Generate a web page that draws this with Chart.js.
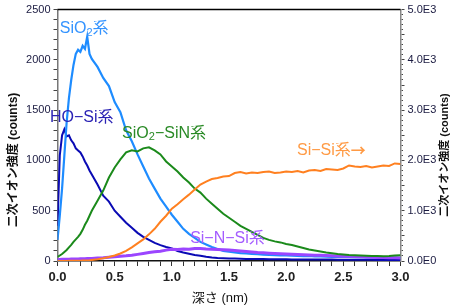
<!DOCTYPE html>
<html lang="ja">
<head>
    <meta charset="UTF-8">
    <title>SIMS depth profile</title>
    <script src="https://cdn.jsdelivr.net/npm/chart.js"></script>
    <style>
        html, body { margin: 0; padding: 0; background: #fff; }
        #wrap { width: 470px; height: 308px; position: relative; }
    </style>
</head>
<body>
    <div id="wrap"><canvas id="profileChart" width="470" height="308"></canvas></div>

    <script>
        // depth (nm)
        const depth = [0, 0.02, 0.04, 0.06, 0.08, 0.1, 0.12, 0.14, 0.16, 0.18, 0.2, 0.22, 0.24, 0.26, 0.28, 0.3,
            0.35, 0.4, 0.45, 0.5, 0.55, 0.6, 0.65, 0.7, 0.75, 0.8, 0.85, 0.9, 0.95, 1.0,
            1.05, 1.1, 1.15, 1.2, 1.25, 1.3, 1.35, 1.4, 1.45, 1.5,
            1.55, 1.6, 1.65, 1.7, 1.75, 1.8, 1.85, 1.9, 1.95, 2.0,
            2.05, 2.1, 2.15, 2.2, 2.25, 2.3, 2.35, 2.4, 2.45, 2.5,
            2.55, 2.6, 2.65, 2.7, 2.75, 2.8, 2.85, 2.9, 2.95, 3.0];

        // left axis (counts)
        const sio2 = [210, 450, 720, 1050, 1380, 1620, 1800, 1950, 2060, 2100, 2080, 2140, 2110, 2230, 2060, 2010,
            1930, 1820, 1740, 1580, 1480, 1300, 1190, 1060, 940, 820, 720, 620, 540, 460,
            390, 320, 270, 230, 190, 165, 140, 120, 100, 92,
            85, 78, 75, 70, 68, 62, 60, 58, 55, 55,
            52, 50, 48, 50, 46, 45, 44, 42, 40, 42,
            40, 38, 40, 37, 36, 35, 36, 34, 33, 32];
        const hoSi = [350, 1050, 1250, 1310, 1240, 1250, 1200, 1170, 1120, 1100, 1080, 1040, 990, 950, 900, 860,
            760, 650, 590, 500, 440, 380, 330, 280, 240, 210, 180, 158, 140, 125,
            100, 85, 72, 60, 52, 42, 35, 30, 28, 25,
            24, 22, 21, 20, 20, 19, 18, 18, 17, 17,
            16, 16, 15, 15, 15, 14, 14, 14, 13, 13,
            13, 12, 12, 12, 12, 11, 11, 11, 10, 10];
        const sio2SiN = [40, 55, 70, 90, 110, 135, 160, 190, 215, 240, 270, 310, 360, 400, 450, 500,
            600, 700, 830, 930, 1010, 1080, 1100, 1090, 1120, 1130, 1100, 1060, 990, 940,
            890, 830, 780, 720, 680, 620, 570, 520, 470, 430,
            390, 350, 320, 290, 260, 230, 210, 195, 185, 170,
            160, 145, 130, 115, 105, 95, 85, 78, 70, 65,
            60, 58, 55, 52, 50, 50, 48, 50, 55, 58];
        const siNSi = [15, 16, 17, 17, 18, 18, 19, 20, 20, 21, 22, 22, 23, 24, 25, 26,
            30, 33, 38, 42, 48, 52, 58, 66, 75, 85, 92, 98, 108, 116,
            115, 120, 118, 125, 124, 120, 118, 115, 112, 110,
            105, 100, 95, 90, 85, 82, 78, 75, 72, 70,
            68, 65, 62, 60, 58, 56, 55, 52, 50, 48,
            46, 44, 42, 40, 38, 36, 35, 33, 32, 30];
        // right axis (counts)
        const siSi = [0, 0, 0, 0, 2, 3, 3, 4, 5, 5, 6, 8, 10, 12, 15, 20,
            35, 55, 80, 110, 150, 200, 270, 350, 430, 530, 640, 780, 900, 1040,
            1130, 1230, 1320, 1420, 1520, 1580, 1630, 1650, 1680, 1690,
            1750, 1770, 1740, 1760, 1750, 1770, 1780, 1750, 1760, 1780,
            1770, 1790, 1760, 1800, 1810, 1790, 1830, 1820, 1810, 1840,
            1900, 1880, 1870, 1890, 1860, 1880, 1900, 1890, 1940, 1930];

        const xTickLabels = ['0.0', '0.5', '1.0', '1.5', '2.0', '2.5', '3.0'];
        const yTickLabels = ['0', '500', '1000', '1500', '2000', '2500'];
        const y2TickLabels = ['0.0E0', '1.0E3', '2.0E3', '3.0E3', '4.0E3', '5.0E3'];

        const FONT = '"Liberation Sans", "Noto Sans CJK JP", sans-serif';

        // [text parts, depth, counts, color]  parts: [string, kind] kind 0 normal, 1 subscript, 2 CJK arrow
        const labels = [
            [[['SiO', 0], ['2', 1], ['系', 0]], 0.02, 2311, '#3393ff'],
            [[['HO−Si系', 0]], -0.066, 1428, '#2a22b4'],
            [[['SiO', 0], ['2', 1], ['−SiN系', 0]], 0.565, 1270, '#2a8a26'],
            [[['Si−Si系', 0], ['→', 2]], 2.095, 1101, '#ff9a44'],
            [[['Si−N−Si系', 0]], 1.16, 218, '#a45cff']
        ];

        function pts(values) {
            return values.map((v, i) => ({ x: depth[i], y: v }));
        }

        function tickLabel(list, value, step) {
            const idx = value / step;
            if (Math.abs(idx - Math.round(idx)) > 1e-6) return '';
            return list[Math.round(idx)] ?? '';
        }

        const decor = {
            id: 'decor',
            afterDraw(chart) {
                const ctx = chart.ctx;
                const a = chart.chartArea;
                const xs = chart.scales.x, ys = chart.scales.y;
                ctx.save();
                // top frame line
                ctx.strokeStyle = '#000';
                ctx.lineWidth = 1.5;
                ctx.beginPath();
                ctx.moveTo(a.left, a.top);
                ctx.lineTo(a.right, a.top);
                ctx.stroke();

                // axis titles
                ctx.fillStyle = '#111';
                ctx.textAlign = 'center';
                ctx.textBaseline = 'middle';
                ctx.font = '13px ' + FONT;
                ctx.fillText('深さ (nm)', 220, 298);

                ctx.font = 'bold 12px ' + FONT;
                ctx.save();
                ctx.translate(14, 160);
                ctx.rotate(-Math.PI / 2);
                ctx.fillText('二次イオン強度 (counts)', 0, 0);
                ctx.restore();

                ctx.font = 'bold 11px ' + FONT;
                ctx.save();
                ctx.translate(445, 155);
                ctx.rotate(-Math.PI / 2);
                ctx.fillText('二次イオン強度 (counts)', 0, 0);
                ctx.restore();

                // series labels
                ctx.textAlign = 'left';
                labels.forEach(([parts, dx, dy, color]) => {
                    let px = xs.getPixelForValue(dx);
                    const py = ys.getPixelForValue(dy);
                    ctx.fillStyle = color;
                    parts.forEach(([txt, kind]) => {
                        if (kind === 1) ctx.font = '11px ' + FONT;
                        else if (kind === 2) ctx.font = 'bold 15px "Noto Sans CJK JP"';
                        else ctx.font = '16px ' + FONT;
                        ctx.fillText(txt, px, py + (kind === 1 ? 4 : 0));
                        px += ctx.measureText(txt).width;
                    });
                });
                ctx.restore();
            }
        };

        const line = (label, values, color, width, axis) => ({
            label, data: pts(values), borderColor: color, borderWidth: width,
            pointRadius: 0, fill: false, tension: 0, yAxisID: axis
        });

        new Chart(document.getElementById('profileChart'), {
            type: 'line',
            data: {
                datasets: [
                    line('Si-Si', siSi, '#ff8020', 2, 'y2'),
                    line('SiO2-SiN', sio2SiN, '#1b8a1b', 2, 'y'),
                    line('Si-N-Si', siNSi, '#9b45ff', 3, 'y'),
                    line('SiO2', sio2, '#1e8cff', 2.2, 'y'),
                    line('HO-Si', hoSi, '#0a0ab4', 2, 'y')
                ]
            },
            options: {
                responsive: false,
                animation: false,
                layout: { padding: { top: 9, left: 0, right: 0, bottom: 0 } },
                plugins: { legend: { display: false }, tooltip: { enabled: false } },
                scales: {
                    x: {
                        type: 'linear', min: 0, max: 3,
                        afterFit: (s) => { s.height = 47; },
                        border: { color: '#111', width: 1.5 },
                        grid: { drawOnChartArea: false, tickLength: 5, color: '#333' },
                        ticks: {
                            stepSize: 0.1, autoSkip: false, maxRotation: 0, padding: 4,
                            color: '#222', font: { family: FONT, size: 13, weight: 'bold' },
                            callback: (v) => tickLabel(xTickLabels, v, 0.5)
                        }
                    },
                    y: {
                        position: 'left', min: 0, max: 2500,
                        afterFit: (s) => { s.width = 57.5; },
                        border: { color: '#777', width: 1.5 },
                        grid: { drawOnChartArea: false, tickLength: 4, color: '#444' },
                        ticks: {
                            stepSize: 100, autoSkip: false, padding: 3,
                            color: '#1a1a40', font: { family: FONT, size: 11 },
                            callback: (v) => tickLabel(yTickLabels, v, 500)
                        }
                    },
                    y2: {
                        position: 'right', min: 0, max: 5000,
                        afterFit: (s) => { s.width = 69.5; },
                        border: { color: '#888', width: 1.5 },
                        grid: {
                            drawOnChartArea: false, tickLength: 4, color: '#444',
                            tickBorderDash: (c) => (c.tick && c.tick.value % 500 !== 0) ? [1.5, 10] : []
                        },
                        ticks: {
                            stepSize: 100, autoSkip: false, padding: 3,
                            color: '#1a1a40', font: { family: FONT, size: 11 },
                            callback: (v) => tickLabel(y2TickLabels, v, 1000)
                        }
                    }
                }
            },
            plugins: [decor]
        });
    </script>
</body>
</html>
